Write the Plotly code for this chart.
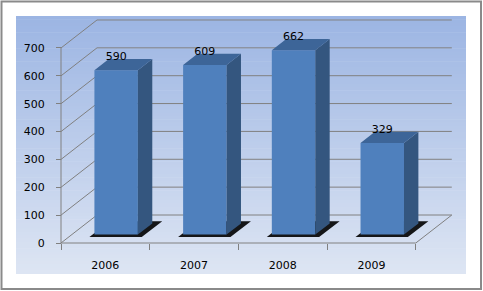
import plotly.graph_objects as go

# ---- data ----
years = ["2006", "2007", "2008", "2009"]
values = [590, 609, 662, 329]
y_ticks = [0, 100, 200, 300, 400, 500, 600, 700]

# ---- layout constants (pixels of the 483x291 canvas) ----
W, H = 483, 291
X0PX, CATPX = 61.0, 88.7        # front-left axis x, width of one category
Y0PX, PXPERV = 243.0, 0.2786    # value 0 (front) y, pixels per value unit
DEPTH_PX_X, DEPTH_PX_Y = 36.0, 28.0
DX = DEPTH_PX_X / CATPX         # depth offset in category units
DV = DEPTH_PX_Y / PXPERV        # depth offset in value units

x_range = [(0 - X0PX) / CATPX, (W - X0PX) / CATPX]
y_range = [(Y0PX - H) / PXPERV, Y0PX / PXPERV]

BAR_W = 0.49
BAR_D0, BAR_D1 = 0.30, 0.70
VMAX = max(y_ticks)
NCAT = len(years)


def proj(x, v, d):
    return x + DX * d, v + DV * d


def add_poly(xs, ys, pts):
    for (x, v, d) in pts + [pts[0]]:
        px, pv = proj(x, v, d)
        xs.append(px)
        ys.append(pv)
    xs.append(None)
    ys.append(None)


fig = go.Figure()

# ---- background gradient of the chart area ----
top_c = (0x9C, 0xB5, 0xE3)
bot_c = (0xDD, 0xE5, 0xF3)
n = 80
top_px, bot_px = 16.0, 274.0
shapes = []
for k in range(n):
    t = k / (n - 1)
    c = tuple(round(top_c[j] + (bot_c[j] - top_c[j]) * t) for j in range(3))
    y0 = top_px + (bot_px - top_px) * k / n
    y1 = top_px + (bot_px - top_px) * (k + 1) / n + 0.6
    shapes.append(dict(type="rect", xref="paper", yref="paper",
                       x0=16 / W, x1=466 / W, y0=1 - min(y1, bot_px) / H, y1=1 - y0 / H,
                       fillcolor="rgb(%d,%d,%d)" % c, line=dict(width=0), layer="below"))
# outer border
shapes.append(dict(type="rect", xref="paper", yref="paper",
                   x0=1.5 / W, x1=481 / W, y0=1 - 289 / H, y1=1 - 1.5 / H,
                   line=dict(color="#8a8a8a", width=2), fillcolor="rgba(0,0,0,0)", layer="above"))

# ---- grid / walls ----
gx, gy = [], []
for v in y_ticks:
    for a, b in [((0, v, 1), (NCAT, v, 1)), ((0, v, 0), (0, v, 1))]:
        p, q = proj(*a), proj(*b)
        gx += [p[0], q[0], None]
        gy += [p[1], q[1], None]
for a, b in [((0, 0, 0), (0, VMAX, 0)), ((0, 0, 0), (NCAT, 0, 0)), ((NCAT, 0, 0), (NCAT, 0, 1))]:
    p, q = proj(*a), proj(*b)
    gx += [p[0], q[0], None]
    gy += [p[1], q[1], None]
fig.add_trace(go.Scatter(x=gx, y=gy, mode="lines", xaxis="x2", yaxis="y",
                         line=dict(color="#808080", width=1), hoverinfo="skip", showlegend=False))

# ---- bars ----
sx, sy, fx, fy, kx, ky, tx, ty = [], [], [], [], [], [], [], []
for i, v in enumerate(values):
    l = i + 0.5 - BAR_W / 2
    r = i + 0.5 + BAR_W / 2
    add_poly(sx, sy, [(l - 0.02, 0, 0.21), (r + 0.08, 0, 0.21), (r + 0.08, 0, 0.78), (l - 0.02, 0, 0.78)])
    add_poly(fx, fy, [(l, 0, BAR_D0), (r, 0, BAR_D0), (r, v, BAR_D0), (l, v, BAR_D0)])
    add_poly(kx, ky, [(r, 0, BAR_D0), (r, 0, BAR_D1), (r, v, BAR_D1), (r, v, BAR_D0)])
    add_poly(tx, ty, [(l, v, BAR_D0), (r, v, BAR_D0), (r, v, BAR_D1), (l, v, BAR_D1)])

for xs, ys, col in [(sx, sy, "rgba(0,0,0,0.9)"), (fx, fy, "#4F80BD"),
                    (kx, ky, "#34567F"), (tx, ty, "#3D6598")]:
    fig.add_trace(go.Scatter(x=xs, y=ys, mode="lines", fill="toself", fillcolor=col,
                             line=dict(width=0, color=col), xaxis="x2", yaxis="y",
                             hoverinfo="skip", showlegend=False))

# ---- data labels ----
lx = [i + 0.5 + DX * BAR_D0 for i in range(NCAT)]
ly = [v + DV * 0.75 for v in values]
fig.add_trace(go.Scatter(x=lx, y=ly, mode="text", text=[str(v) for v in values],
                         textposition="middle center", xaxis="x2", yaxis="y",
                         textfont=dict(family="DejaVu Sans", size=11, color="#000000"),
                         hoverinfo="skip", showlegend=False))

# category axis carrier
fig.add_trace(go.Scatter(x=years, y=[0] * NCAT, mode="markers", marker=dict(opacity=0),
                         xaxis="x", yaxis="y", hoverinfo="skip", showlegend=False))

fig.update_layout(
    width=W, height=H, margin=dict(l=0, r=0, t=0, b=0),
    paper_bgcolor="white", plot_bgcolor="rgba(0,0,0,0)",
    shapes=shapes,
    xaxis=dict(type="category", range=[x_range[0] - 0.5, x_range[1] - 0.5],
               domain=[0, 1], anchor="free", position=1 - Y0PX / H,
               tickson="boundaries", ticks="outside", ticklen=6, tickcolor="#808080",
               showgrid=False, showline=False, zeroline=False, ticklabelstandoff=14,
               tickfont=dict(family="DejaVu Sans", size=11, color="#000000"),
               categoryorder="array", categoryarray=years),
    xaxis2=dict(range=x_range, overlaying="x", visible=False, domain=[0, 1]),
    yaxis=dict(range=y_range, domain=[0, 1], anchor="free", position=X0PX / W,
               tickvals=y_ticks, ticktext=[str(t) for t in y_ticks],
               ticks="outside", ticklen=5, tickcolor="#808080",
               showgrid=False, showline=False, zeroline=False, ticklabelstandoff=9,
               tickfont=dict(family="DejaVu Sans", size=11, color="#000000")),
)

fig.write_html("out.html")
